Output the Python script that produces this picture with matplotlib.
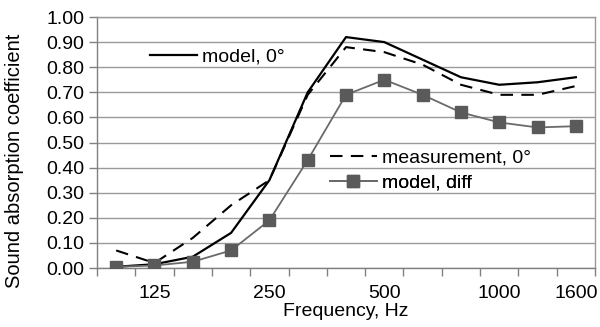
import matplotlib.pyplot as plt

# third-octave bands, Hz
freqs = ['100', '125', '160', '200', '250', '315', '400', '500', '630', '800', '1000', '1250', '1600']
tick_labels = ['', '125', '', '', '250', '', '', '500', '', '', '1000', '', '1600']

model_0 = [0.005, 0.015, 0.045, 0.14, 0.35, 0.70, 0.92, 0.90, 0.83, 0.76, 0.73, 0.74, 0.76]
measurement_0 = [0.07, 0.02, 0.12, 0.25, 0.35, 0.69, 0.88, 0.86, 0.81, 0.73, 0.69, 0.69, 0.725]
model_diff = [0.005, 0.01, 0.025, 0.07, 0.19, 0.43, 0.69, 0.75, 0.69, 0.62, 0.58, 0.56, 0.565]

plt.rcParams['font.family'] = ['Liberation Sans', 'DejaVu Sans']

fig = plt.figure(figsize=(6, 3.27), dpi=100)
ax = fig.add_axes([0.1617, 0.1804, 0.83, 0.7676])

x = list(range(len(freqs)))
gray = '#5a5a5a'

l1, = ax.plot(x, model_0, color='black', lw=1.6, label='model, 0°', zorder=4)
l2, = ax.plot(x, measurement_0, color='black', lw=1.5, dashes=(6, 4), label='measurement, 0°', zorder=3)
l3, = ax.plot(x, model_diff, color='#6a6a6a', lw=1.3, marker='s', markersize=8,
              markerfacecolor=gray, markeredgecolor=gray, label='model, diff', zorder=5)

ax.set_xlim(-0.5, len(freqs) - 0.5)
ax.set_ylim(0, 1.0)
ax.set_yticks([i / 10 for i in range(11)])
ax.set_yticklabels(['%.2f' % (i / 10) for i in range(11)])
ax.set_xticks([i + 0.5 for i in range(-1, len(freqs))])
ax.set_xticklabels([])
ax.set_xticks(x, minor=True)
ax.set_xticklabels(tick_labels, minor=True)
ax.tick_params(axis='x', which='minor', length=0, pad=12, labelsize=14)
ax.tick_params(axis='x', which='major', length=6, color='#808080', width=1)
ax.tick_params(axis='y', length=6, color='#808080', width=1, labelsize=14, pad=3)

ax.grid(axis='y', color='#9a9a9a', lw=1)
ax.set_axisbelow(True)
for s in ax.spines.values():
    s.set_color('#9a9a9a')
    s.set_linewidth(1)
ax.spines['left'].set_color('#808080')
ax.spines['bottom'].set_color('#808080')

ax.set_xlabel('Frequency, Hz', fontsize=14, labelpad=1)
ax.set_ylabel('Sound absorption coefficient', fontsize=14.5)
ax.yaxis.set_label_coords(-0.147, 0.426)

# legend entries placed separately, as in the original
def put_legend(handle, xpix, ypix):
    leg = ax.legend(handles=[handle], loc='center left', frameon=False,
                    bbox_to_anchor=(xpix / 600, 1 - ypix / 327), bbox_transform=fig.transFigure,
                    borderpad=0, borderaxespad=0, handlelength=2.4, handletextpad=0.3,
                    fontsize=14)
    ax.add_artist(leg)

put_legend(l1, 150, 57)
put_legend(l2, 330, 158)
put_legend(l3, 330, 183)

fig.savefig('out.png', dpi=100)
